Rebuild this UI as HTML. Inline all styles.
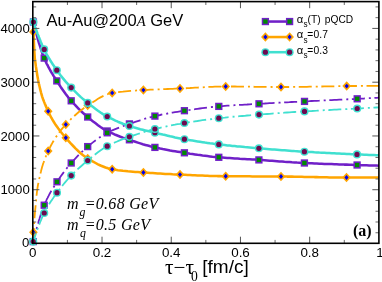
<!DOCTYPE html>
<html><head><meta charset="utf-8"><title>chart</title>
<style>
html,body{margin:0;padding:0;background:#fff;}
body{width:382px;height:282px;position:relative;overflow:hidden;font-family:"Liberation Sans",sans-serif;color:#000;}
.t{position:absolute;white-space:nowrap;line-height:1;filter:blur(0.3px);}
.yl{font-size:13.2px;text-align:right;width:29.8px;left:0;}
.xl{font-size:13.4px;text-align:center;width:40px;top:246.2px;}
.se{font-family:"Liberation Serif",serif;}
.lg{font-size:9.9px;}
.al{font-family:"Liberation Sans",sans-serif;font-size:11.2px;left:296.7px;}
.ss{font-size:8.2px;left:303.6px;}
.ms{font-size:11.8px;font-style:italic;font-family:"Liberation Serif",serif;left:79.4px;}
</style></head><body>
<svg width="382" height="282" viewBox="0 0 382 282" style="position:absolute;left:0;top:0">
<rect width="382" height="282" fill="#fff"/>
<defs><clipPath id="c"><rect x="26.799999999999997" y="1.6" width="352.9" height="248.70000000000002"/></clipPath></defs>
<g clip-path="url(#c)">
<path d="M33.4,22.0L33.9,24.1L34.4,26.1L34.9,28.1L35.5,30.1L35.9,31.8L36.0,32.1L36.5,34.0L37.0,35.9L37.5,37.8L38.0,39.6L38.4,40.9L38.5,41.4L39.0,43.1L39.6,44.8L40.1,46.5L40.6,48.1L40.9,49.0L41.1,49.7L41.6,51.2L42.1,52.7L42.6,54.1L43.1,55.5L43.3,56.0L43.7,56.8L44.2,58.0L44.2,58.1L44.7,59.2L45.2,60.4L45.7,61.5L45.8,61.8L46.2,62.6L46.7,63.7L47.2,64.7L47.8,65.7L48.3,66.7L48.3,66.8L48.8,67.7L49.3,68.6L49.8,69.5L50.3,70.4L50.8,71.3L50.8,71.3L51.3,72.2L51.9,73.1L52.4,73.9L52.9,74.7L53.3,75.4L53.4,75.6L55.8,79.3L56.8,80.9L58.3,83.2L60.7,86.9L63.2,90.5L65.7,94.0L68.2,97.2L70.7,100.2L71.2,100.8L73.2,103.0L75.7,105.7L78.2,108.3L80.6,110.7L83.1,113.0L85.6,115.2L87.7,117.0L88.1,117.3L90.6,119.4L93.1,121.4L95.6,123.3L98.0,125.2L100.5,127.0L103.0,128.6L105.5,130.1L107.2,131.0L108.0,131.4L110.5,132.6L113.0,133.7L115.4,134.8L117.9,135.7L120.4,136.7L122.9,137.6L125.4,138.4L127.9,139.3L129.4,139.8L130.4,140.1L132.9,141.0L135.3,141.8L137.8,142.6L140.3,143.4L142.8,144.2L145.3,144.9L147.8,145.6L150.3,146.3L152.7,146.9L154.9,147.4L155.2,147.5L157.7,148.0L160.2,148.6L162.7,149.1L165.2,149.5L167.7,150.0L170.1,150.5L172.6,150.9L175.1,151.3L177.6,151.7L180.1,152.1L182.6,152.5L184.4,152.8L185.1,152.9L187.6,153.3L190.0,153.7L192.5,154.0L195.0,154.4L197.5,154.8L200.0,155.1L202.5,155.5L205.0,155.8L207.4,156.1L209.9,156.4L212.4,156.7L214.9,156.9L217.4,157.2L218.8,157.3L219.9,157.4L222.4,157.6L224.8,157.8L227.3,158.0L229.8,158.1L232.3,158.3L234.8,158.5L237.3,158.6L239.8,158.8L242.3,158.9L244.7,159.0L247.2,159.2L249.7,159.3L252.2,159.5L254.7,159.6L257.2,159.8L258.9,159.9L259.7,160.0L262.1,160.1L264.6,160.3L267.1,160.5L269.6,160.7L272.1,160.8L274.6,161.0L277.1,161.2L279.5,161.4L282.0,161.6L284.5,161.8L287.0,161.9L289.5,162.1L292.0,162.3L294.5,162.4L297.0,162.6L299.4,162.7L301.9,162.9L304.4,163.0L304.4,163.0L306.9,163.1L309.4,163.2L311.9,163.3L314.4,163.5L316.8,163.6L319.3,163.7L321.8,163.8L324.3,163.9L326.8,164.0L329.3,164.0L331.8,164.1L334.2,164.2L336.7,164.3L339.2,164.4L341.7,164.5L344.2,164.6L346.7,164.6L349.2,164.7L351.7,164.8L354.1,164.9L356.6,165.0L357.1,165.0L359.1,165.1L361.6,165.2L364.1,165.2L366.6,165.3L369.1,165.4L371.5,165.5L374.0,165.5L376.5,165.6L379.0,165.7" fill="none" stroke="#7020c8" stroke-width="2.55" stroke-linejoin="round"/>
<rect x="29.75" y="18.35" width="7.3" height="7.3" fill="#7020c8"/><rect x="31.25" y="19.85" width="4.3" height="4.3" fill="#008c00"/>
<rect x="40.55" y="54.45" width="7.3" height="7.3" fill="#7020c8"/><rect x="42.05" y="55.95" width="4.3" height="4.3" fill="#008c00"/>
<rect x="53.15" y="77.25" width="7.3" height="7.3" fill="#7020c8"/><rect x="54.65" y="78.75" width="4.3" height="4.3" fill="#008c00"/>
<rect x="67.55" y="97.15" width="7.3" height="7.3" fill="#7020c8"/><rect x="69.05" y="98.65" width="4.3" height="4.3" fill="#008c00"/>
<rect x="84.05" y="113.35" width="7.3" height="7.3" fill="#7020c8"/><rect x="85.55" y="114.85" width="4.3" height="4.3" fill="#008c00"/>
<rect x="103.55" y="127.35" width="7.3" height="7.3" fill="#7020c8"/><rect x="105.05" y="128.85" width="4.3" height="4.3" fill="#008c00"/>
<rect x="125.75" y="136.15" width="7.3" height="7.3" fill="#7020c8"/><rect x="127.25" y="137.65" width="4.3" height="4.3" fill="#008c00"/>
<rect x="151.25" y="143.75" width="7.3" height="7.3" fill="#7020c8"/><rect x="152.75" y="145.25" width="4.3" height="4.3" fill="#008c00"/>
<rect x="180.75" y="149.15" width="7.3" height="7.3" fill="#7020c8"/><rect x="182.25" y="150.65" width="4.3" height="4.3" fill="#008c00"/>
<rect x="215.15" y="153.65" width="7.3" height="7.3" fill="#7020c8"/><rect x="216.65" y="155.15" width="4.3" height="4.3" fill="#008c00"/>
<rect x="255.25" y="156.25" width="7.3" height="7.3" fill="#7020c8"/><rect x="256.75" y="157.75" width="4.3" height="4.3" fill="#008c00"/>
<rect x="300.75" y="159.35" width="7.3" height="7.3" fill="#7020c8"/><rect x="302.25" y="160.85" width="4.3" height="4.3" fill="#008c00"/>
<rect x="353.45" y="161.35" width="7.3" height="7.3" fill="#7020c8"/><rect x="354.95" y="162.85" width="4.3" height="4.3" fill="#008c00"/>
<path d="M33.2,241.6L33.7,239.6L34.2,237.5L34.7,235.6L35.3,233.6L35.7,231.9L35.8,231.7L36.3,229.7L36.8,227.9L37.3,226.0L37.8,224.2L38.2,223.0L38.3,222.4L38.8,220.7L39.4,219.0L39.9,217.3L40.4,215.7L40.7,214.9L40.9,214.2L41.4,212.6L41.9,211.2L42.4,209.7L42.9,208.3L43.2,207.8L43.5,207.0L44.0,205.8L44.2,205.2L44.5,204.5L45.0,203.4L45.5,202.2L45.6,201.9L46.0,201.1L46.5,200.0L47.0,198.9L47.6,197.9L48.1,196.9L48.1,196.8L48.6,195.9L49.1,194.9L49.6,193.9L50.1,193.0L50.6,192.1L50.6,192.1L51.1,191.2L51.7,190.3L52.2,189.5L52.7,188.6L53.1,187.9L53.2,187.8L55.6,184.0L57.0,181.8L58.1,180.2L60.6,176.5L63.1,173.1L65.5,169.8L68.0,166.7L70.5,163.8L71.2,163.0L73.0,161.0L75.5,158.3L78.0,155.7L80.5,153.2L83.0,150.8L85.4,148.5L87.7,146.6L87.9,146.4L90.4,144.4L92.9,142.4L95.4,140.5L97.9,138.6L100.4,136.9L102.9,135.3L105.3,133.8L107.2,132.8" fill="none" stroke="#7020c8" stroke-width="1.8" stroke-linejoin="round" stroke-dasharray="13 4 2 3.6" stroke-dashoffset="4"/>
<path d="M107.2,132.8L107.8,132.5L110.3,131.3L112.8,130.1L115.3,129.1L117.8,128.1L120.3,127.1L122.8,126.2L125.2,125.3L127.7,124.5L129.4,123.9L130.2,123.6L132.7,122.8L135.2,121.9L137.7,121.1L140.2,120.3L142.7,119.5L145.1,118.7L147.6,118.0L150.1,117.3L152.6,116.6L154.9,116.1L155.1,116.1L157.6,115.5L160.1,115.0L162.6,114.4L165.1,114.0L167.5,113.5L170.0,113.0L172.5,112.6L175.0,112.2L177.5,111.8L180.0,111.4L182.5,111.0L184.4,110.7L185.0,110.6L187.4,110.2L189.9,109.9L192.4,109.5L194.9,109.2L197.4,108.8L199.9,108.5L202.4,108.2L204.9,107.9L207.3,107.6L209.8,107.3L212.3,107.0L214.8,106.8L217.3,106.5L218.8,106.4L219.8,106.3L222.3,106.1L224.8,105.9L227.2,105.7L229.7,105.6L232.2,105.4L234.7,105.2L237.2,105.1L239.7,104.9L242.2,104.8L244.7,104.6L247.1,104.5L249.6,104.3L252.1,104.2L254.6,104.1L257.1,103.9L259.0,103.8L259.6,103.8L262.1,103.6L264.6,103.5L267.1,103.3L269.5,103.2L272.0,103.1L274.5,102.9L277.0,102.8L279.5,102.7L282.0,102.5L284.5,102.4L287.0,102.3L289.4,102.2L291.9,102.0L294.4,101.9L296.9,101.8L299.4,101.7L301.9,101.5L304.4,101.4L304.5,101.4L306.9,101.3L309.3,101.2L311.8,101.0L314.3,100.9L316.8,100.8L319.3,100.7L321.8,100.5L324.3,100.4L326.8,100.3L329.2,100.2L331.7,100.1L334.2,99.9L336.7,99.8L339.2,99.7L341.7,99.6L344.2,99.4L346.7,99.3L349.1,99.2L351.6,99.1L354.1,99.0L356.6,98.8L357.2,98.8L359.1,98.7L361.6,98.6L364.1,98.5L366.6,98.3L369.0,98.2L371.5,98.1L374.0,98.0L376.5,97.8L379.0,97.7" fill="none" stroke="#7020c8" stroke-width="1.8" stroke-linejoin="round" stroke-dasharray="13 4 2 3.6" stroke-dashoffset="0"/>
<rect x="29.55" y="237.95" width="7.3" height="7.3" fill="#7020c8"/><rect x="31.05" y="239.45" width="4.3" height="4.3" fill="#008c00"/>
<rect x="40.55" y="201.55" width="7.3" height="7.3" fill="#7020c8"/><rect x="42.05" y="203.05" width="4.3" height="4.3" fill="#008c00"/>
<rect x="53.35" y="178.15" width="7.3" height="7.3" fill="#7020c8"/><rect x="54.85" y="179.65" width="4.3" height="4.3" fill="#008c00"/>
<rect x="67.55" y="159.35" width="7.3" height="7.3" fill="#7020c8"/><rect x="69.05" y="160.85" width="4.3" height="4.3" fill="#008c00"/>
<rect x="84.05" y="142.95" width="7.3" height="7.3" fill="#7020c8"/><rect x="85.55" y="144.45" width="4.3" height="4.3" fill="#008c00"/>
<rect x="103.55" y="129.15" width="7.3" height="7.3" fill="#7020c8"/><rect x="105.05" y="130.65" width="4.3" height="4.3" fill="#008c00"/>
<rect x="125.75" y="120.25" width="7.3" height="7.3" fill="#7020c8"/><rect x="127.25" y="121.75" width="4.3" height="4.3" fill="#008c00"/>
<rect x="151.25" y="112.45" width="7.3" height="7.3" fill="#7020c8"/><rect x="152.75" y="113.95" width="4.3" height="4.3" fill="#008c00"/>
<rect x="180.75" y="107.05" width="7.3" height="7.3" fill="#7020c8"/><rect x="182.25" y="108.55" width="4.3" height="4.3" fill="#008c00"/>
<rect x="215.15" y="102.75" width="7.3" height="7.3" fill="#7020c8"/><rect x="216.65" y="104.25" width="4.3" height="4.3" fill="#008c00"/>
<rect x="255.35" y="100.15" width="7.3" height="7.3" fill="#7020c8"/><rect x="256.85" y="101.65" width="4.3" height="4.3" fill="#008c00"/>
<rect x="300.85" y="97.75" width="7.3" height="7.3" fill="#7020c8"/><rect x="302.35" y="99.25" width="4.3" height="4.3" fill="#008c00"/>
<rect x="353.55" y="95.15" width="7.3" height="7.3" fill="#7020c8"/><rect x="355.05" y="96.65" width="4.3" height="4.3" fill="#008c00"/>
<path d="M33.4,32.0L33.9,42.4L34.4,52.5L34.9,59.5L35.0,60.0L35.5,63.4L35.9,66.4L36.0,67.0L36.5,70.3L37.0,73.5L37.5,76.5L38.0,79.3L38.4,81.2L38.5,82.0L39.0,84.4L39.6,86.7L40.1,88.9L40.6,90.9L40.9,92.0L41.1,92.8L41.6,94.6L42.1,96.3L42.6,97.8L43.1,99.3L43.3,99.9L43.7,100.7L44.2,102.1L44.7,103.4L45.2,104.6L45.7,105.8L45.8,106.1L46.2,106.9L46.7,108.1L47.2,109.2L47.8,110.3L48.2,111.3L48.3,111.5L48.3,111.6L48.8,112.6L49.3,113.7L49.8,114.7L50.3,115.7L50.8,116.7L50.8,116.7L51.3,117.7L51.9,118.7L52.4,119.6L52.9,120.5L53.3,121.1L53.4,121.3L55.8,125.1L58.3,128.6L60.7,131.8L63.2,134.8L65.7,137.7L65.8,137.8L68.2,140.6L70.7,143.4L73.2,146.0L75.7,148.6L78.2,151.0L80.6,153.2L83.1,155.2L85.6,157.0L87.7,158.4L88.1,158.6L90.6,160.1L93.1,161.6L95.6,163.0L98.0,164.3L100.5,165.5L103.0,166.5L105.5,167.5L108.0,168.3L110.5,169.0L112.2,169.3L113.0,169.4L115.4,169.8L117.9,170.2L120.4,170.5L122.9,170.8L125.4,171.0L127.9,171.3L130.4,171.5L132.9,171.7L135.3,171.9L137.8,172.1L140.3,172.3L142.8,172.5L143.4,172.5L145.3,172.6L147.8,172.8L150.3,173.0L152.7,173.1L155.2,173.3L157.7,173.5L160.2,173.6L162.7,173.7L165.2,173.9L167.7,174.0L170.1,174.1L172.6,174.3L175.1,174.4L177.6,174.5L180.0,174.6L180.1,174.6L182.6,174.7L185.1,174.8L187.6,174.9L190.0,175.0L192.5,175.2L195.0,175.3L197.5,175.4L200.0,175.5L202.5,175.6L205.0,175.7L207.4,175.8L209.9,175.9L212.4,175.9L214.9,176.0L217.4,176.1L219.9,176.1L222.4,176.2L224.8,176.2L225.7,176.2L227.3,176.2L229.8,176.2L232.3,176.3L234.8,176.3L237.3,176.3L239.8,176.3L242.3,176.3L244.7,176.3L247.2,176.3L249.7,176.3L252.2,176.4L254.7,176.4L257.2,176.4L259.7,176.4L262.1,176.4L264.6,176.4L267.1,176.4L269.6,176.4L272.1,176.4L274.6,176.5L277.1,176.5L279.5,176.5L281.0,176.5L282.0,176.5L284.5,176.5L287.0,176.6L289.5,176.6L292.0,176.6L294.5,176.7L297.0,176.7L299.4,176.8L301.9,176.8L304.4,176.9L306.9,176.9L309.4,177.0L311.9,177.0L314.4,177.1L316.8,177.1L319.3,177.2L321.8,177.2L324.3,177.3L326.8,177.3L329.3,177.4L331.8,177.4L334.2,177.4L336.7,177.4L339.2,177.5L341.7,177.5L344.2,177.5L346.5,177.5L346.7,177.5L349.2,177.5L351.7,177.5L354.1,177.5L356.6,177.5L359.1,177.5L361.6,177.5L364.1,177.5L366.6,177.5L369.1,177.5L371.5,177.5L374.0,177.5L376.5,177.5L379.0,177.5" fill="none" stroke="#ffa500" stroke-width="2.55" stroke-linejoin="round"/>
<path d="M29.05,32.00L33.40,27.25L37.75,32.00L33.40,36.75Z" fill="#ffa500"/><path d="M31.35,32.00L33.40,29.55L35.45,32.00L33.40,34.45Z" fill="#0000ee"/>
<path d="M43.85,111.30L48.20,106.55L52.55,111.30L48.20,116.05Z" fill="#ffa500"/><path d="M46.15,111.30L48.20,108.85L50.25,111.30L48.20,113.75Z" fill="#0000ee"/>
<path d="M61.45,137.80L65.80,133.05L70.15,137.80L65.80,142.55Z" fill="#ffa500"/><path d="M63.75,137.80L65.80,135.35L67.85,137.80L65.80,140.25Z" fill="#0000ee"/>
<path d="M83.35,158.40L87.70,153.65L92.05,158.40L87.70,163.15Z" fill="#ffa500"/><path d="M85.65,158.40L87.70,155.95L89.75,158.40L87.70,160.85Z" fill="#0000ee"/>
<path d="M107.85,169.30L112.20,164.55L116.55,169.30L112.20,174.05Z" fill="#ffa500"/><path d="M110.15,169.30L112.20,166.85L114.25,169.30L112.20,171.75Z" fill="#0000ee"/>
<path d="M139.05,172.50L143.40,167.75L147.75,172.50L143.40,177.25Z" fill="#ffa500"/><path d="M141.35,172.50L143.40,170.05L145.45,172.50L143.40,174.95Z" fill="#0000ee"/>
<path d="M175.65,174.60L180.00,169.85L184.35,174.60L180.00,179.35Z" fill="#ffa500"/><path d="M177.95,174.60L180.00,172.15L182.05,174.60L180.00,177.05Z" fill="#0000ee"/>
<path d="M221.35,176.20L225.70,171.45L230.05,176.20L225.70,180.95Z" fill="#ffa500"/><path d="M223.65,176.20L225.70,173.75L227.75,176.20L225.70,178.65Z" fill="#0000ee"/>
<path d="M276.65,176.50L281.00,171.75L285.35,176.50L281.00,181.25Z" fill="#ffa500"/><path d="M278.95,176.50L281.00,174.05L283.05,176.50L281.00,178.95Z" fill="#0000ee"/>
<path d="M342.15,177.50L346.50,172.75L350.85,177.50L346.50,182.25Z" fill="#ffa500"/><path d="M344.45,177.50L346.50,175.05L348.55,177.50L346.50,179.95Z" fill="#0000ee"/>
<path d="M33.4,232.3L33.9,225.8L34.4,219.3L34.9,213.0L35.5,206.9L35.9,202.0L36.0,201.2L36.5,196.1L37.0,191.5L37.5,187.8L37.8,186.0L38.0,184.8L38.4,183.0L38.5,182.2L39.0,179.6L39.6,177.3L40.1,175.0L40.6,172.9L40.9,171.7L41.1,170.8L41.6,168.9L42.1,167.1L42.6,165.4L43.1,163.8L43.3,163.2L43.7,162.3L44.2,160.8L44.7,159.4L45.2,158.1L45.7,156.8L45.8,156.5L46.2,155.5L46.7,154.3L47.2,153.2L47.8,152.1L48.2,151.1L48.3,150.9L48.3,150.8L48.8,149.9L49.3,148.8L49.8,147.8L50.3,146.7L50.8,145.8L50.8,145.8L51.3,144.8L51.9,143.8L52.4,142.9L52.9,142.0L53.3,141.3L53.4,141.2L55.8,137.3L58.3,133.7L60.7,130.4L63.2,127.4L65.7,124.6L65.8,124.5L68.2,121.9L70.7,119.3L73.2,116.9L75.7,114.7L78.2,112.5L80.6,110.5L83.1,108.7L85.6,106.9L87.7,105.5L88.1,105.2L90.6,103.6L93.1,102.0L95.6,100.4L98.0,98.8L100.5,97.4L103.0,96.1L105.5,94.9L108.0,94.0L110.5,93.2L112.2,92.9" fill="none" stroke="#ffa500" stroke-width="1.8" stroke-linejoin="round" stroke-dasharray="13 4 2 3.6" stroke-dashoffset="8.5"/>
<path d="M112.2,92.9L113.0,92.8L115.4,92.4L117.9,92.1L120.4,91.8L122.9,91.6L125.4,91.3L127.9,91.1L130.4,90.9L132.9,90.7L135.3,90.6L137.8,90.4L140.3,90.3L142.8,90.1L143.4,90.1L145.3,90.0L147.8,89.9L150.3,89.7L152.7,89.6L155.2,89.5L157.7,89.4L160.2,89.3L162.7,89.2L165.2,89.1L167.7,89.0L170.1,88.9L172.6,88.8L175.1,88.7L177.6,88.6L180.0,88.5L180.1,88.5L182.6,88.4L185.1,88.3L187.6,88.1L190.0,88.0L192.5,87.8L195.0,87.7L197.5,87.6L200.0,87.4L202.5,87.3L205.0,87.1L207.4,87.0L209.9,86.9L212.4,86.8L214.9,86.7L217.4,86.6L219.9,86.6L222.4,86.5L224.8,86.5L225.7,86.5L227.3,86.5L229.8,86.5L232.3,86.5L234.8,86.5L237.3,86.6L239.8,86.6L242.3,86.6L244.7,86.6L247.2,86.7L249.7,86.7L252.2,86.7L254.7,86.8L257.2,86.8L259.7,86.8L262.1,86.9L264.6,86.9L267.1,86.9L269.6,86.9L272.1,87.0L274.6,87.0L277.1,87.0L279.5,87.0L281.0,87.0L282.0,87.0L284.5,87.0L287.0,87.0L289.5,87.0L292.0,86.9L294.5,86.9L297.0,86.9L299.4,86.9L301.9,86.8L304.4,86.8L306.9,86.8L309.4,86.7L311.9,86.7L314.4,86.6L316.8,86.6L319.3,86.5L321.8,86.5L324.3,86.4L326.8,86.4L329.3,86.4L331.8,86.3L334.2,86.3L336.7,86.2L339.2,86.2L341.7,86.2L344.2,86.1L346.7,86.1L346.7,86.1L349.2,86.1L351.7,86.0L354.1,86.0L356.6,86.0L359.1,86.0L361.6,85.9L364.1,85.9L366.6,85.9L369.1,85.9L371.5,85.9L374.0,85.8L376.5,85.8L379.0,85.8" fill="none" stroke="#ffa500" stroke-width="1.8" stroke-linejoin="round" stroke-dasharray="13 4 2 3.6" stroke-dashoffset="16.6"/>
<path d="M29.05,232.30L33.40,227.55L37.75,232.30L33.40,237.05Z" fill="#ffa500"/><path d="M31.35,232.30L33.40,229.85L35.45,232.30L33.40,234.75Z" fill="#0000ee"/>
<path d="M43.85,151.10L48.20,146.35L52.55,151.10L48.20,155.85Z" fill="#ffa500"/><path d="M46.15,151.10L48.20,148.65L50.25,151.10L48.20,153.55Z" fill="#0000ee"/>
<path d="M61.45,124.50L65.80,119.75L70.15,124.50L65.80,129.25Z" fill="#ffa500"/><path d="M63.75,124.50L65.80,122.05L67.85,124.50L65.80,126.95Z" fill="#0000ee"/>
<path d="M83.35,105.50L87.70,100.75L92.05,105.50L87.70,110.25Z" fill="#ffa500"/><path d="M85.65,105.50L87.70,103.05L89.75,105.50L87.70,107.95Z" fill="#0000ee"/>
<path d="M107.85,92.90L112.20,88.15L116.55,92.90L112.20,97.65Z" fill="#ffa500"/><path d="M110.15,92.90L112.20,90.45L114.25,92.90L112.20,95.35Z" fill="#0000ee"/>
<path d="M139.05,90.10L143.40,85.35L147.75,90.10L143.40,94.85Z" fill="#ffa500"/><path d="M141.35,90.10L143.40,87.65L145.45,90.10L143.40,92.55Z" fill="#0000ee"/>
<path d="M175.65,88.50L180.00,83.75L184.35,88.50L180.00,93.25Z" fill="#ffa500"/><path d="M177.95,88.50L180.00,86.05L182.05,88.50L180.00,90.95Z" fill="#0000ee"/>
<path d="M221.35,86.50L225.70,81.75L230.05,86.50L225.70,91.25Z" fill="#ffa500"/><path d="M223.65,86.50L225.70,84.05L227.75,86.50L225.70,88.95Z" fill="#0000ee"/>
<path d="M276.65,87.00L281.00,82.25L285.35,87.00L281.00,91.75Z" fill="#ffa500"/><path d="M278.95,87.00L281.00,84.55L283.05,87.00L281.00,89.45Z" fill="#0000ee"/>
<path d="M342.35,86.10L346.70,81.35L351.05,86.10L346.70,90.85Z" fill="#ffa500"/><path d="M344.65,86.10L346.70,83.65L348.75,86.10L346.70,88.55Z" fill="#0000ee"/>
<path d="M33.4,22.0L33.9,23.5L34.4,25.0L34.9,26.5L35.5,27.9L35.9,29.1L36.0,29.4L36.5,30.8L37.0,32.2L37.5,33.6L38.0,34.9L38.4,35.9L38.5,36.3L39.0,37.6L39.6,38.9L40.1,40.1L40.6,41.4L40.9,42.1L41.1,42.6L41.6,43.8L42.1,45.0L42.6,46.1L43.1,47.2L43.3,47.6L43.7,48.3L44.2,49.3L44.2,49.4L44.7,50.4L45.2,51.4L45.7,52.3L45.8,52.6L46.2,53.3L46.7,54.3L47.2,55.2L47.8,56.1L48.3,57.0L48.3,57.1L48.8,57.9L49.3,58.8L49.8,59.6L50.3,60.5L50.8,61.3L50.8,61.3L51.3,62.1L51.9,62.9L52.4,63.7L52.9,64.5L53.3,65.1L53.4,65.3L55.8,68.8L56.8,70.2L58.3,72.2L60.7,75.5L63.2,78.6L65.7,81.6L68.2,84.4L70.7,87.1L71.2,87.6L73.2,89.7L75.7,92.2L78.2,94.6L80.6,96.9L83.1,99.1L85.6,101.2L87.7,102.9L88.1,103.2L90.6,105.2L93.1,107.1L95.6,109.0L98.0,110.8L100.5,112.5L103.0,114.1L105.5,115.6L107.2,116.5L108.0,116.9L110.5,118.2L113.0,119.4L115.4,120.6L117.9,121.7L120.4,122.7L122.9,123.7L125.4,124.6L127.9,125.5L129.4,126.0L130.4,126.3L132.9,127.1L135.3,127.8L137.8,128.5L140.3,129.2L142.8,129.8L145.3,130.4L147.8,131.0L150.3,131.6L152.7,132.2L154.9,132.7L155.2,132.8L157.7,133.4L160.2,134.0L162.7,134.6L165.2,135.1L167.7,135.7L170.1,136.3L172.6,136.8L175.1,137.4L177.6,137.9L180.1,138.4L182.6,138.9L184.4,139.2L185.1,139.3L187.6,139.8L190.0,140.2L192.5,140.6L195.0,141.0L197.5,141.4L200.0,141.8L202.5,142.2L205.0,142.6L207.4,142.9L209.9,143.3L212.4,143.6L214.9,143.9L217.4,144.2L218.8,144.4L219.9,144.5L222.4,144.8L224.8,145.1L227.3,145.4L229.8,145.6L232.3,145.9L234.8,146.1L237.3,146.4L239.8,146.6L242.3,146.8L244.7,147.1L247.2,147.3L249.7,147.5L252.2,147.7L254.7,147.9L257.2,148.2L258.9,148.3L259.7,148.4L262.1,148.6L264.6,148.8L267.1,149.0L269.6,149.2L272.1,149.4L274.6,149.6L277.1,149.8L279.5,150.0L282.0,150.2L284.5,150.3L287.0,150.5L289.5,150.7L292.0,150.9L294.5,151.1L297.0,151.2L299.4,151.4L301.9,151.5L304.4,151.7L304.4,151.7L306.9,151.9L309.4,152.0L311.9,152.1L314.4,152.3L316.8,152.4L319.3,152.6L321.8,152.7L324.3,152.8L326.8,153.0L329.3,153.1L331.8,153.2L334.2,153.3L336.7,153.5L339.2,153.6L341.7,153.7L344.2,153.8L346.7,153.9L349.2,154.0L351.7,154.2L354.1,154.3L356.6,154.4L357.0,154.4L359.1,154.5L361.6,154.6L364.1,154.7L366.6,154.8L369.1,154.9L371.5,155.0L374.0,155.1L376.5,155.2L379.0,155.3" fill="none" stroke="#40e0d0" stroke-width="2.55" stroke-linejoin="round"/>
<circle cx="33.40" cy="22.00" r="4.05" fill="#40e0d0"/><circle cx="33.40" cy="22.00" r="2.6" fill="#6e0a50"/>
<circle cx="44.20" cy="49.40" r="4.05" fill="#40e0d0"/><circle cx="44.20" cy="49.40" r="2.6" fill="#6e0a50"/>
<circle cx="56.80" cy="70.20" r="4.05" fill="#40e0d0"/><circle cx="56.80" cy="70.20" r="2.6" fill="#6e0a50"/>
<circle cx="71.20" cy="87.60" r="4.05" fill="#40e0d0"/><circle cx="71.20" cy="87.60" r="2.6" fill="#6e0a50"/>
<circle cx="87.70" cy="102.90" r="4.05" fill="#40e0d0"/><circle cx="87.70" cy="102.90" r="2.6" fill="#6e0a50"/>
<circle cx="107.20" cy="116.50" r="4.05" fill="#40e0d0"/><circle cx="107.20" cy="116.50" r="2.6" fill="#6e0a50"/>
<circle cx="129.40" cy="126.00" r="4.05" fill="#40e0d0"/><circle cx="129.40" cy="126.00" r="2.6" fill="#6e0a50"/>
<circle cx="154.90" cy="132.70" r="4.05" fill="#40e0d0"/><circle cx="154.90" cy="132.70" r="2.6" fill="#6e0a50"/>
<circle cx="184.40" cy="139.20" r="4.05" fill="#40e0d0"/><circle cx="184.40" cy="139.20" r="2.6" fill="#6e0a50"/>
<circle cx="218.80" cy="144.40" r="4.05" fill="#40e0d0"/><circle cx="218.80" cy="144.40" r="2.6" fill="#6e0a50"/>
<circle cx="258.90" cy="148.30" r="4.05" fill="#40e0d0"/><circle cx="258.90" cy="148.30" r="2.6" fill="#6e0a50"/>
<circle cx="304.40" cy="151.70" r="4.05" fill="#40e0d0"/><circle cx="304.40" cy="151.70" r="2.6" fill="#6e0a50"/>
<circle cx="357.00" cy="154.40" r="4.05" fill="#40e0d0"/><circle cx="357.00" cy="154.40" r="2.6" fill="#6e0a50"/>
<path d="M33.2,241.6L33.7,240.0L34.2,238.5L34.7,237.0L35.3,235.4L35.7,234.2L35.8,233.9L36.3,232.5L36.8,231.0L37.3,229.6L37.8,228.2L38.2,227.2L38.3,226.8L38.8,225.4L39.4,224.1L39.9,222.8L40.4,221.5L40.7,220.8L40.9,220.3L41.4,219.1L41.9,217.9L42.4,216.7L42.9,215.6L43.2,215.2L43.5,214.5L44.0,213.5L44.2,213.0L44.5,212.4L45.0,211.5L45.5,210.5L45.6,210.2L46.0,209.5L46.5,208.6L47.0,207.7L47.6,206.8L48.1,205.9L48.1,205.8L48.6,205.1L49.1,204.2L49.6,203.4L50.1,202.6L50.6,201.9L50.6,201.8L51.1,201.0L51.7,200.3L52.2,199.5L52.7,198.8L53.1,198.2L53.2,198.0L55.6,194.6L57.0,192.7L58.1,191.2L60.6,188.0L63.1,184.8L65.5,181.9L68.0,179.0L70.5,176.3L71.2,175.6L73.0,173.7L75.5,171.3L78.0,168.9L80.5,166.7L83.0,164.5L85.4,162.4L87.7,160.5L87.9,160.3L90.4,158.3L92.9,156.3L95.4,154.3L97.9,152.3L100.4,150.5L102.9,148.8L105.3,147.3L107.2,146.2L107.8,145.9L110.3,144.6L112.8,143.4L115.3,142.3L117.8,141.2L120.3,140.2L122.8,139.2L125.2,138.3L127.7,137.4L129.4,136.8" fill="none" stroke="#40e0d0" stroke-width="1.8" stroke-linejoin="round" stroke-dasharray="13 4 2 3.6" stroke-dashoffset="4.5"/>
<path d="M129.4,136.8L130.2,136.5L132.7,135.6L135.2,134.8L137.7,134.0L140.2,133.2L142.7,132.4L145.1,131.6L147.6,130.9L150.1,130.2L152.6,129.6L154.9,129.0L155.1,129.0L157.6,128.4L160.1,127.8L162.6,127.2L165.1,126.7L167.5,126.1L170.0,125.6L172.5,125.1L175.0,124.7L177.5,124.2L180.0,123.8L182.5,123.3L184.4,123.0L185.0,122.9L187.4,122.5L189.9,122.1L192.4,121.7L194.9,121.3L197.4,121.0L199.9,120.6L202.4,120.2L204.9,119.9L207.3,119.6L209.8,119.3L212.3,119.0L214.8,118.7L217.3,118.4L218.8,118.2L219.8,118.1L222.3,117.8L224.8,117.6L227.2,117.3L229.7,117.1L232.2,116.8L234.7,116.6L237.2,116.4L239.7,116.2L242.2,116.0L244.7,115.8L247.1,115.5L249.6,115.3L252.1,115.1L254.6,114.9L257.1,114.8L259.0,114.6L259.6,114.6L262.1,114.4L264.6,114.2L267.1,114.0L269.5,113.8L272.0,113.6L274.5,113.4L277.0,113.2L279.5,113.1L282.0,112.9L284.5,112.7L287.0,112.5L289.4,112.4L291.9,112.2L294.4,112.0L296.9,111.9L299.4,111.7L301.9,111.6L304.4,111.4L304.5,111.4L306.9,111.3L309.3,111.1L311.8,111.0L314.3,110.8L316.8,110.7L319.3,110.5L321.8,110.4L324.3,110.2L326.8,110.1L329.2,110.0L331.7,109.8L334.2,109.7L336.7,109.6L339.2,109.4L341.7,109.3L344.2,109.2L346.7,109.1L349.1,108.9L351.6,108.8L354.1,108.7L356.6,108.5L357.2,108.5L359.1,108.4L361.6,108.3L364.1,108.1L366.6,108.0L369.0,107.9L371.5,107.8L374.0,107.6L376.5,107.5L379.0,107.4" fill="none" stroke="#40e0d0" stroke-width="1.8" stroke-linejoin="round" stroke-dasharray="13 4 2 3.6" stroke-dashoffset="2"/>
<circle cx="33.20" cy="241.60" r="4.05" fill="#40e0d0"/><circle cx="33.20" cy="241.60" r="2.6" fill="#6e0a50"/>
<circle cx="44.20" cy="213.00" r="4.05" fill="#40e0d0"/><circle cx="44.20" cy="213.00" r="2.6" fill="#6e0a50"/>
<circle cx="57.00" cy="192.70" r="4.05" fill="#40e0d0"/><circle cx="57.00" cy="192.70" r="2.6" fill="#6e0a50"/>
<circle cx="71.20" cy="175.60" r="4.05" fill="#40e0d0"/><circle cx="71.20" cy="175.60" r="2.6" fill="#6e0a50"/>
<circle cx="87.70" cy="160.50" r="4.05" fill="#40e0d0"/><circle cx="87.70" cy="160.50" r="2.6" fill="#6e0a50"/>
<circle cx="107.20" cy="146.20" r="4.05" fill="#40e0d0"/><circle cx="107.20" cy="146.20" r="2.6" fill="#6e0a50"/>
<circle cx="129.40" cy="136.80" r="4.05" fill="#40e0d0"/><circle cx="129.40" cy="136.80" r="2.6" fill="#6e0a50"/>
<circle cx="154.90" cy="129.00" r="4.05" fill="#40e0d0"/><circle cx="154.90" cy="129.00" r="2.6" fill="#6e0a50"/>
<circle cx="184.40" cy="123.00" r="4.05" fill="#40e0d0"/><circle cx="184.40" cy="123.00" r="2.6" fill="#6e0a50"/>
<circle cx="218.80" cy="118.20" r="4.05" fill="#40e0d0"/><circle cx="218.80" cy="118.20" r="2.6" fill="#6e0a50"/>
<circle cx="259.00" cy="114.60" r="4.05" fill="#40e0d0"/><circle cx="259.00" cy="114.60" r="2.6" fill="#6e0a50"/>
<circle cx="304.50" cy="111.40" r="4.05" fill="#40e0d0"/><circle cx="304.50" cy="111.40" r="2.6" fill="#6e0a50"/>
<circle cx="357.20" cy="108.50" r="4.05" fill="#40e0d0"/><circle cx="357.20" cy="108.50" r="2.6" fill="#6e0a50"/>
</g>
<path d="M67.41,243.3v-3.4M67.41,1.6v3.4" stroke="#6a6a6a" stroke-width="1.0"/>
<path d="M102.02,243.3v-6.6M102.02,1.6v6.6" stroke="#555" stroke-width="1.0"/>
<path d="M136.63,243.3v-3.4M136.63,1.6v3.4" stroke="#6a6a6a" stroke-width="1.0"/>
<path d="M171.24,243.3v-6.6M171.24,1.6v6.6" stroke="#555" stroke-width="1.0"/>
<path d="M205.85,243.3v-3.4M205.85,1.6v3.4" stroke="#6a6a6a" stroke-width="1.0"/>
<path d="M240.46,243.3v-6.6M240.46,1.6v6.6" stroke="#555" stroke-width="1.0"/>
<path d="M275.07,243.3v-3.4M275.07,1.6v3.4" stroke="#6a6a6a" stroke-width="1.0"/>
<path d="M309.68,243.3v-6.6M309.68,1.6v6.6" stroke="#555" stroke-width="1.0"/>
<path d="M344.29,243.3v-3.4M344.29,1.6v3.4" stroke="#6a6a6a" stroke-width="1.0"/>
<path d="M32.8,232.75h3.4M378.9,232.75h-3.4" stroke="#6a6a6a" stroke-width="1.0"/>
<path d="M32.8,221.99h3.4M378.9,221.99h-3.4" stroke="#6a6a6a" stroke-width="1.0"/>
<path d="M32.8,211.24h3.4M378.9,211.24h-3.4" stroke="#6a6a6a" stroke-width="1.0"/>
<path d="M32.8,200.48h3.4M378.9,200.48h-3.4" stroke="#6a6a6a" stroke-width="1.0"/>
<path d="M32.8,189.73h6.6M378.9,189.73h-6.6" stroke="#555" stroke-width="1.0"/>
<path d="M32.8,178.98h3.4M378.9,178.98h-3.4" stroke="#6a6a6a" stroke-width="1.0"/>
<path d="M32.8,168.22h3.4M378.9,168.22h-3.4" stroke="#6a6a6a" stroke-width="1.0"/>
<path d="M32.8,157.47h3.4M378.9,157.47h-3.4" stroke="#6a6a6a" stroke-width="1.0"/>
<path d="M32.8,146.71h3.4M378.9,146.71h-3.4" stroke="#6a6a6a" stroke-width="1.0"/>
<path d="M32.8,135.96h6.6M378.9,135.96h-6.6" stroke="#555" stroke-width="1.0"/>
<path d="M32.8,125.21h3.4M378.9,125.21h-3.4" stroke="#6a6a6a" stroke-width="1.0"/>
<path d="M32.8,114.45h3.4M378.9,114.45h-3.4" stroke="#6a6a6a" stroke-width="1.0"/>
<path d="M32.8,103.70h3.4M378.9,103.70h-3.4" stroke="#6a6a6a" stroke-width="1.0"/>
<path d="M32.8,92.94h3.4M378.9,92.94h-3.4" stroke="#6a6a6a" stroke-width="1.0"/>
<path d="M32.8,82.19h6.6M378.9,82.19h-6.6" stroke="#555" stroke-width="1.0"/>
<path d="M32.8,71.44h3.4M378.9,71.44h-3.4" stroke="#6a6a6a" stroke-width="1.0"/>
<path d="M32.8,60.68h3.4M378.9,60.68h-3.4" stroke="#6a6a6a" stroke-width="1.0"/>
<path d="M32.8,49.93h3.4M378.9,49.93h-3.4" stroke="#6a6a6a" stroke-width="1.0"/>
<path d="M32.8,39.17h3.4M378.9,39.17h-3.4" stroke="#6a6a6a" stroke-width="1.0"/>
<path d="M32.8,28.42h6.6M378.9,28.42h-6.6" stroke="#555" stroke-width="1.0"/>
<path d="M32.8,17.67h3.4M378.9,17.67h-3.4" stroke="#6a6a6a" stroke-width="1.0"/>
<path d="M32.8,6.91h3.4M378.9,6.91h-3.4" stroke="#6a6a6a" stroke-width="1.0"/>
<rect x="32.8" y="1.6" width="346.10" height="241.70" fill="none" stroke="#000" stroke-width="1.6"/>
<line x1="265.4" y1="21.55" x2="289.6" y2="21.55" stroke="#7020c8" stroke-width="2.55"/>
<rect x="261.75" y="17.90" width="7.3" height="7.3" fill="#7020c8"/><rect x="263.25" y="19.40" width="4.3" height="4.3" fill="#008c00"/>
<rect x="285.95" y="17.90" width="7.3" height="7.3" fill="#7020c8"/><rect x="287.45" y="19.40" width="4.3" height="4.3" fill="#008c00"/>
<line x1="265.4" y1="37.05" x2="289.6" y2="37.05" stroke="#ffa500" stroke-width="2.55"/>
<path d="M261.05,37.05L265.40,32.30L269.75,37.05L265.40,41.80Z" fill="#ffa500"/><path d="M263.35,37.05L265.40,34.60L267.45,37.05L265.40,39.50Z" fill="#0000ee"/>
<path d="M285.25,37.05L289.60,32.30L293.95,37.05L289.60,41.80Z" fill="#ffa500"/><path d="M287.55,37.05L289.60,34.60L291.65,37.05L289.60,39.50Z" fill="#0000ee"/>
<line x1="265.4" y1="52.2" x2="289.6" y2="52.2" stroke="#40e0d0" stroke-width="2.55"/>
<circle cx="265.40" cy="52.20" r="4.05" fill="#40e0d0"/><circle cx="265.40" cy="52.20" r="2.6" fill="#6e0a50"/>
<circle cx="289.60" cy="52.20" r="4.05" fill="#40e0d0"/><circle cx="289.60" cy="52.20" r="2.6" fill="#6e0a50"/>
</svg>
<div class="t yl" style="top:22.1px">4000</div>
<div class="t yl" style="top:75.9px">3000</div>
<div class="t yl" style="top:129.7px">2000</div>
<div class="t yl" style="top:183.4px">1000</div>
<div class="t yl" style="top:235.9px;width:29.4px">0</div>
<div class="t xl" style="left:12.8px">0</div>
<div class="t xl" style="left:82.0px">0.2</div>
<div class="t xl" style="left:151.2px">0.4</div>
<div class="t xl" style="left:220.5px">0.6</div>
<div class="t xl" style="left:289.7px">0.8</div>
<div class="t xl" style="left:360.1px">1</div>
<div class="t" style="left:46.5px;top:11.5px;font-size:16.5px">Au-Au@200<span class="se" style="font-style:italic;font-size:14.6px">A</span> GeV</div>

<div class="t al" style="top:14.2px">α</div>
<div class="t ss" style="top:21.4px">s</div>
<div class="t lg" style="left:307.6px;top:15.2px;font-size:10.2px">(T)<span style="display:inline-block;width:4.2px"></span>pQCD</div>
<div class="t al" style="top:29.4px">α</div>
<div class="t ss" style="top:36.7px">s</div>
<div class="t lg" style="left:307.2px;top:30.3px;font-size:10.3px">=<span style="display:inline-block;width:0.4px"></span>0.7</div>
<div class="t al" style="top:44.7px">α</div>
<div class="t ss" style="top:52.0px">s</div>
<div class="t lg" style="left:307.2px;top:45.7px;font-size:10.3px">=<span style="display:inline-block;width:0.4px"></span>0.3</div>

<div class="t se" style="left:67px;top:196.0px;font-size:16px;font-style:italic;letter-spacing:0.3px">m<span style="display:inline-block;width:5.8px"></span>=0.68 GeV</div>
<div class="t ms" style="top:206.6px">g</div>
<div class="t se" style="left:67px;top:216.7px;font-size:16px;font-style:italic;letter-spacing:0.3px">m<span style="display:inline-block;width:5.8px"></span>=0.5 GeV</div>
<div class="t ms" style="top:227.6px;left:79.9px">q</div>
<div class="t se" style="left:353px;top:222.6px;font-size:16px;font-weight:bold">(a)</div>
<div class="t se" style="left:165.2px;top:256.7px;font-size:20px;transform:scaleX(1.06);transform-origin:0 0">τ−τ</div>
<div class="t se" style="left:190.9px;top:269.7px;font-size:13.6px">0</div>
<div class="t" style="left:202.3px;top:256.8px;font-size:19px">[fm/c]</div>
</body></html>
